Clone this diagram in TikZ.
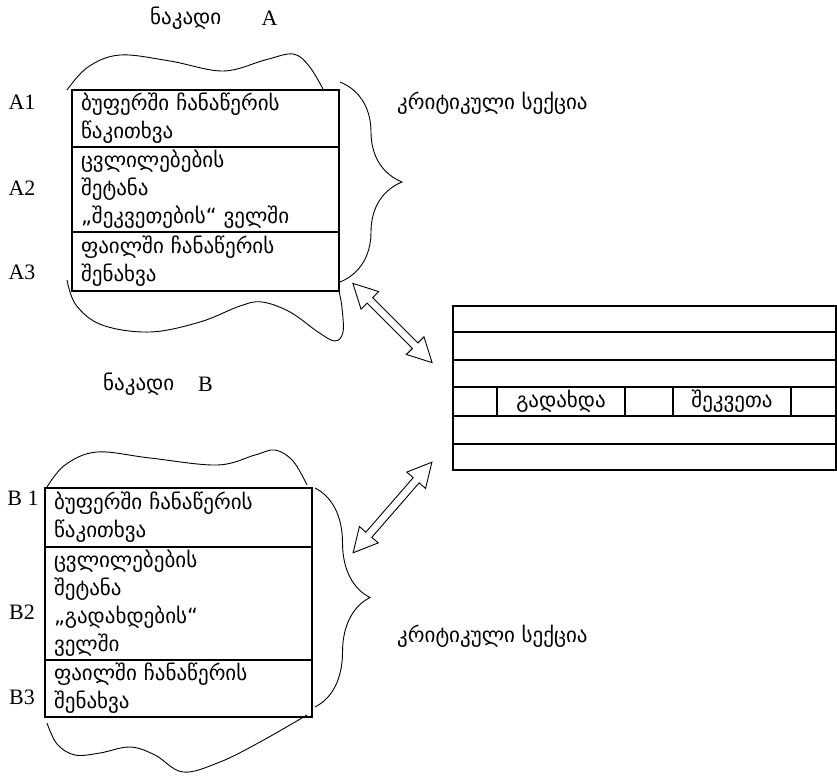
\documentclass[tikz,border=0pt]{standalone}
\usepackage{fontspec}
\setmainfont{Liberation Serif}
\newfontfamily\geo{DejaVu Sans}
\usetikzlibrary{positioning, shapes.arrows, decorations.pathreplacing}
\tikzset{every picture/.style={x=1pt,y=-1pt},
         geotext/.style={font=\geo\fontsize{21}{28}\selectfont, inner sep=0pt},
         rowbox/.style={draw, line width=1.1pt, outer sep=0pt, minimum width=267pt, text width=249pt, align=left,
                        inner xsep=9pt, inner ysep=0pt, font=\geo\fontsize{21}{28}\selectfont},
         lbl/.style={font=\fontsize{22}{24}\selectfont, inner sep=0pt},
         cloudline/.style={line width=0.9pt},
         critbrace/.style={decorate, decoration={brace, amplitude=#1}, line width=0.9pt},
         dblarrow/.style={draw, double arrow, line width=0.9pt, inner xsep=0pt, inner ysep=3.5pt,
                          double arrow head extend=8.5pt, double arrow tip angle=55, minimum height=#1},
         cell/.style={geotext},
        }
\begin{document}
\begin{tikzpicture}
    \useasboundingbox (0,0) rectangle (837,776);

    \node[geotext, anchor=west](flowA)at(150,18){ნაკადი};
    \node[lbl](nameA)at(269.5,18){A};

    \node[rowbox, minimum height=57pt, anchor=north west](a1)at(72,90){ბუფერში ჩანაწერის\\წაკითხვა};
    \node[rowbox, minimum height=85pt, below=0pt of a1](a2){ცვლილებების\\შეტანა\\„შეკვეთების“ ველში};
    \node[rowbox, minimum height=59pt, below=0pt of a2](a3){ფაილში ჩანაწერის\\შენახვა};
    \node[lbl](la1)at(22,102){A1};
    \node[lbl](la2)at(22,188){A2};
    \node[lbl](la3)at(22,272){A3};

    \draw[cloudline] plot[smooth, tension=0.6] coordinates {(67,90) (88,67) (120,55) (170,61) (223,71) (265,60) (293,54) (309,66) (323,89)};
    \draw[cloudline] plot[smooth, tension=0.6] coordinates {(67,280) (76,305) (102,325) (150,332) (200,322) (240,306) (262,302) (290,312) (318,332) (335,341) (343,332) (342,308) (339,291)};

    \draw[critbrace=62pt] (340,82) -- (340,282);
    \node[geotext, anchor=west](critA)at(397,103){კრიტიკული სექცია};

    \node[geotext, anchor=west](flowB)at(103,384){ნაკადი};
    \node[lbl](nameB)at(205.5,384){B};

    \node[rowbox, minimum width=266pt, minimum height=59pt, anchor=north west](b1)at(45,488){ბუფერში ჩანაწერის\\წაკითხვა};
    \node[rowbox, minimum width=266pt, minimum height=113pt, below=0pt of b1](b2){ცვლილებების\\შეტანა\\„გადახდების“\\ველში};
    \node[rowbox, minimum width=266pt, minimum height=57pt, below=0pt of b2](b3){ფაილში ჩანაწერის\\შენახვა};
    \node[lbl](lb1)at(23,498){B 1};
    \node[lbl](lb2)at(22,612){B2};
    \node[lbl](lb3)at(22,697){B3};

    \draw[cloudline] plot[smooth, tension=0.6] coordinates {(47,487) (65,465) (97,452) (150,458) (217,465) (255,455) (275,450) (293,461) (307,485)};
    \draw[cloudline] plot[smooth, tension=0.6] coordinates {(47,723) (57,744) (75,755) (100,753) (130,747) (155,755) (183,772) (220,762) (260,742) (307,715)};

    \draw[critbrace=55pt] (315,488) -- (315,707);
    \node[geotext, anchor=west](critB)at(397,636){კრიტიკული სექცია};

    \draw[line width=1.2pt] (453,306) rectangle (836,470);
    \foreach \y in {332,360,387,416,444}
        \draw[line width=1.2pt] (453,\y) -- (836,\y);
    \foreach \x in {497,625,673,791}
        \draw[line width=1.2pt] (\x,387) -- (\x,416);
    \node[cell](paid)at(561,401){გადახდა};
    \node[cell](order)at(732,401){შეკვეთა};

    \node[dblarrow=112pt, rotate=-45](ar1)at(392.5,323){};
    \node[dblarrow=120pt, rotate=49](ar2)at(392.5,507.5){};
\end{tikzpicture}
\end{document}
